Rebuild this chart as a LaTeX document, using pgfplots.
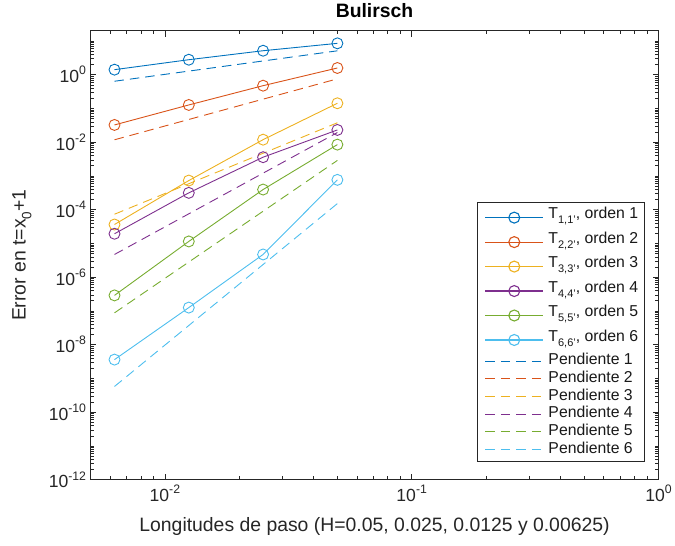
\documentclass[border=0pt]{standalone}
\usepackage{fontspec}
\setmainfont{Liberation Sans}
\usepackage{pgfplots}
\pgfplotsset{compat=1.18}
\usepackage{pgfplotstable}

% MATLAB default line colours
\definecolor{c1}{rgb}{0,0.447,0.741}
\definecolor{c2}{rgb}{0.850,0.325,0.098}
\definecolor{c3}{rgb}{0.929,0.694,0.125}
\definecolor{c4}{rgb}{0.494,0.184,0.556}
\definecolor{c5}{rgb}{0.466,0.674,0.188}
\definecolor{c6}{rgb}{0.301,0.745,0.933}
\definecolor{axgray}{rgb}{0.15,0.15,0.15}

\newcommand\tickfont{\fontsize{17.6bp}{20bp}\selectfont}
\newcommand\labfont{\fontsize{19.4bp}{22bp}\selectfont}
\newcommand\legfont{\fontsize{15.8bp}{18bp}\selectfont}
\newcommand\tenpow[1]{10\raisebox{0.45em}{\fontsize{12.3bp}{12.3bp}\selectfont#1}}
\newcommand\Tsub[1]{T\raisebox{-0.32em}{\fontsize{11bp}{11bp}\selectfont#1}}

% minor ticks of the error axis: odd decades and 2..9 in every decade
\def\yminor{1e-11,1e-9,1e-7,1e-5,1e-3,1e-1,1e1}
\foreach \e in {-12,...,1}{\foreach \m in {2,...,9}{\xdef\yminor{\yminor,\m e\e}}}

% errors of the extrapolated values T_{k,k}
\pgfplotstableread{
h        T1     T2      T3        T4        T5        T6
0.00625  1.41   0.0325  3.65e-5   1.94e-5   2.9e-7    3.63e-9
0.0125   2.78   0.127   7.31e-4   3.16e-4   1.15e-5   1.26e-7
0.025    5.13   0.473   0.0119    3.6e-3    3.96e-4   4.73e-6
0.05     8.49   1.58    0.1425    0.0231    8.49e-3   7.67e-4
}\errores

% reference slopes
\pgfplotstableread{
h        P1     P2      P3        P4        P5        P6
0.00625  0.64   0.0118  7.36e-5   4.73e-6   8.81e-8   5.81e-10
0.05     5.1    0.754   0.0377    0.01938   2.887e-3  1.523e-4
}\pendientes

\begin{document}
\begin{tikzpicture}
\begin{loglogaxis}[
  name=ax,
  scale only axis,
  width=568.6bp, height=449.5bp,
  xmin=0.005, xmax=1,
  ymin=1e-12, ymax=19.95,
  xtick={0.01,0.1,1},
  minor xtick={0.005,0.006,0.007,0.008,0.009,0.02,0.03,0.04,0.05,0.06,0.07,0.08,0.09,0.2,0.3,0.4,0.5,0.6,0.7,0.8,0.9},
  ytick={1e-12,1e-10,1e-8,1e-6,1e-4,1e-2,1},
  minor ytick/.expand once=\yminor,
  xticklabel={\pgfmathtruncatemacro\ex{round(\tick/ln(10))}\tenpow{\ex}},
  yticklabel={\pgfmathtruncatemacro\ex{round(\tick/ln(10))}\tenpow{\ex}},
  tick label style={font=\tickfont, text=axgray},
  xticklabel style={yshift=-2bp},
  yticklabel style={xshift=-1bp},
  tick align=inside,
  major tick length=5.7bp,
  minor tick length=3.5bp,
  every tick/.style={axgray, line width=0.7bp},
  axis line style={axgray, line width=0.8bp},
  title={\bfseries Bulirsch},
  title style={font=\labfont, text=black, at={(axis description cs:0.5,1)}, anchor=base, yshift=7.5bp},
  xlabel={Longitudes de paso (H=0.05, 0.025, 0.0125 y 0.00625)},
  xlabel style={font=\labfont, text=axgray, at={(axis description cs:0.5,-0.1046)}, anchor=center},
  ylabel={Error en t=x\raisebox{-0.3em}{\fontsize{13.5bp}{13.5bp}\selectfont 0}+1},
  ylabel style={font=\labfont, text=axgray, at={(axis description cs:-0.1208,0.5)}, anchor=center},
  every axis plot/.append style={line width=0.9bp},
  legend cell align=left,
  legend image code/.code={%
    \path (0bp,0bp) (64bp,0bp);
    \draw[mark repeat=2,mark phase=2,line width=1.1bp,#1] plot coordinates {(3.7bp,0bp) (32.7bp,0bp) (61.7bp,0bp)};},
  legend style={at={(rel axis cs:0.9761,0.0394)}, anchor=south east,
    draw=axgray, line width=0.6bp, fill=white, font=\legfont, text=black!90,
    inner xsep=4bp, inner ysep=3.5bp, row sep=0bp,
    nodes={inner xsep=2.5bp, inner ysep=1.4bp}},
  clip=false,
]
\addplot[c1, mark=o, mark size=5.5bp] table[x=h,y=T1]{\errores};
\addlegendentry[text height=12bp, text depth=9.7bp]{\Tsub{1,1'}, orden 1}
\addplot[c2, mark=o, mark size=5.5bp] table[x=h,y=T2]{\errores};
\addlegendentry[text height=12bp, text depth=9.7bp]{\Tsub{2,2'}, orden 2}
\addplot[c3, mark=o, mark size=5.5bp] table[x=h,y=T3]{\errores};
\addlegendentry[text height=12bp, text depth=9.7bp]{\Tsub{3,3'}, orden 3}
\addplot[c4, mark=o, mark size=5.5bp] table[x=h,y=T4]{\errores};
\addlegendentry[text height=12bp, text depth=9.7bp]{\Tsub{4,4'}, orden 4}
\addplot[c5, mark=o, mark size=5.5bp] table[x=h,y=T5]{\errores};
\addlegendentry[text height=12bp, text depth=9.7bp]{\Tsub{5,5'}, orden 5}
\addplot[c6, mark=o, mark size=5.5bp] table[x=h,y=T6]{\errores};
\addlegendentry[text height=12bp, text depth=9.7bp]{\Tsub{6,6'}, orden 6}
\addplot[c1, dash pattern=on 9.5bp off 6bp, mark=none] table[x=h,y=P1]{\pendientes};
\addlegendentry[text height=11.3bp, text depth=3.6bp]{Pendiente 1}
\addplot[c2, dash pattern=on 9.5bp off 6bp, mark=none] table[x=h,y=P2]{\pendientes};
\addlegendentry[text height=11.3bp, text depth=3.6bp]{Pendiente 2}
\addplot[c3, dash pattern=on 9.5bp off 6bp, mark=none] table[x=h,y=P3]{\pendientes};
\addlegendentry[text height=11.3bp, text depth=3.6bp]{Pendiente 3}
\addplot[c4, dash pattern=on 9.5bp off 6bp, mark=none] table[x=h,y=P4]{\pendientes};
\addlegendentry[text height=11.3bp, text depth=3.6bp]{Pendiente 4}
\addplot[c5, dash pattern=on 9.5bp off 6bp, mark=none] table[x=h,y=P5]{\pendientes};
\addlegendentry[text height=11.3bp, text depth=3.6bp]{Pendiente 5}
\addplot[c6, dash pattern=on 9.5bp off 6bp, mark=none] table[x=h,y=P6]{\pendientes};
\addlegendentry[text height=11.3bp, text depth=3.6bp]{Pendiente 6}
\end{loglogaxis}
\path ([xshift=-90.7bp,yshift=-66bp]ax.south west) rectangle ([xshift=15.7bp,yshift=26.5bp]ax.north east);
\end{tikzpicture}
\end{document}
